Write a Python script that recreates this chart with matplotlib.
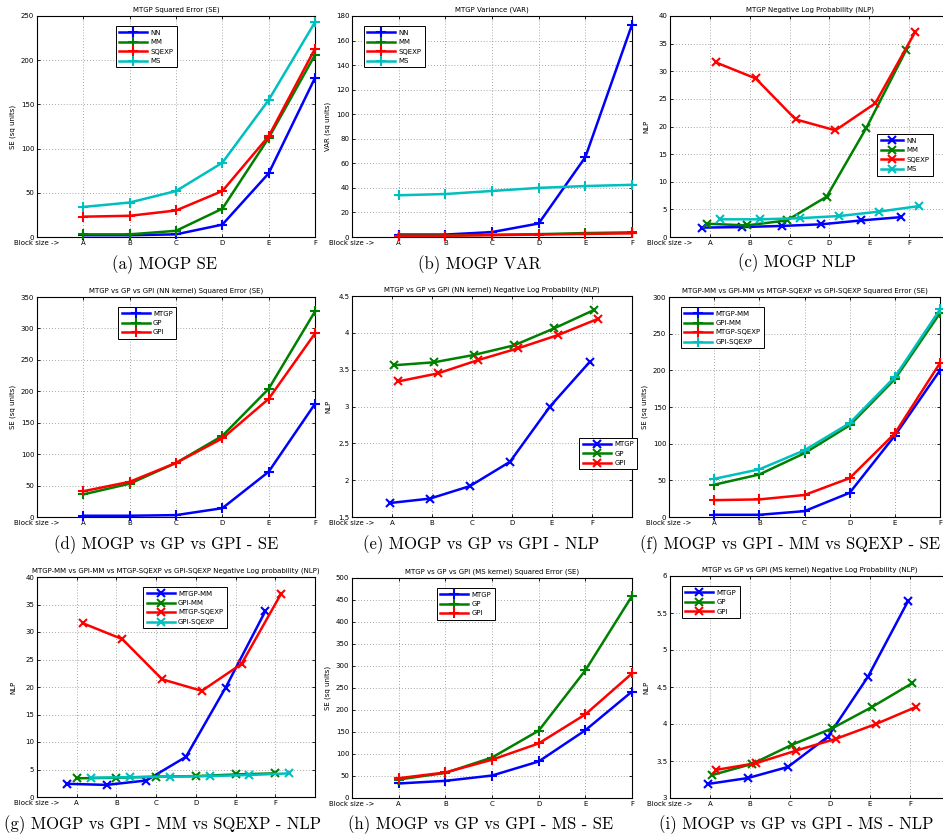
import matplotlib
matplotlib.use("Agg")
import matplotlib.pyplot as plt
import numpy as np

# ---------------- data ----------------
block_labels = ["Block size ->", "A", "B", "C", "D", "E", "F"]

# (a) MTGP Squared Error
a_nn = [2, 2, 3, 14, 72, 180]
a_mm = [3, 3, 7, 32, 112, 206]
a_sqexp = [23, 24, 30, 52, 114, 213]
a_ms = [34, 39, 52, 84, 155, 243]

# (b) MTGP Variance
b_nn = [2, 2, 4, 11, 65, 173]
b_mm = [1.2, 1.2, 1.8, 2.3, 3.2, 3.8]
b_sqexp = [1, 1, 1.5, 2, 2.5, 3]
b_ms = [34, 35, 37.5, 40, 41.5, 42.5]

# (c) MTGP NLP
c_nn = [1.7, 1.8, 2.0, 2.3, 3.0, 3.6]
c_mm = [2.4, 2.1, 3.0, 7.3, 19.8, 33.9]
c_sqexp = [31.6, 28.7, 21.3, 19.3, 24.2, 37.1]
c_ms = [3.2, 3.2, 3.4, 3.8, 4.6, 5.6]

# (d) NN kernel SE
d_mtgp = [2, 2, 3, 14, 72, 180]
d_gp = [36, 53, 86, 129, 204, 327]
d_gpi = [41, 56, 86, 125, 188, 292]

# (e) NN kernel NLP
e_mtgp = [1.69, 1.75, 1.92, 2.25, 3.0, 3.61]
e_gp = [3.56, 3.60, 3.70, 3.83, 4.06, 4.31]
e_gpi = [3.34, 3.45, 3.63, 3.79, 3.97, 4.19]

# (f) MM vs SQEXP SE
f_mtgp_mm = [3, 3, 8, 33, 111, 200]
f_gpi_mm = [44, 58, 87, 125, 188, 278]
f_mtgp_sqexp = [23, 24, 30, 53, 114, 210]
f_gpi_sqexp = [52, 65, 91, 128, 191, 283]

# (g) MM vs SQEXP NLP
g_mtgp_mm = [2.4, 2.2, 3.0, 7.3, 19.9, 33.8]
g_gpi_mm = [3.4, 3.5, 3.7, 3.8, 4.1, 4.3]
g_mtgp_sqexp = [31.6, 28.7, 21.4, 19.3, 24.2, 37.0]
g_gpi_sqexp = [3.5, 3.6, 3.7, 3.8, 4.0, 4.3]

# (h) MS kernel SE
h_mtgp = [33, 39, 51, 83, 154, 242]
h_gp = [42, 57, 92, 153, 290, 459]
h_gpi = [45, 58, 87, 124, 190, 283]

# (i) MS kernel NLP
i_mtgp = [3.19, 3.27, 3.42, 3.83, 4.64, 5.66]
i_gp = [3.31, 3.46, 3.72, 3.94, 4.23, 4.55]
i_gpi = [3.38, 3.47, 3.64, 3.80, 4.00, 4.23]

# ---------------- style ----------------
BLUE = "#0000FF"
GREEN = "#008000"
RED = "#FF0000"
CYAN = "#00BFBF"

W, H = 943, 840
fig = plt.figure(figsize=(W / 100, H / 100), dpi=100)
fig.patch.set_facecolor("white")

SMALL = 5.0


def make_ax(box, xlim, ylim, ystep, title, ylabel):
    l, t, r, b = box
    ax = fig.add_axes([l / W, 1 - b / H, (r - l) / W, (b - t) / H])
    ax.set_xlim(*xlim)
    ax.set_ylim(*ylim)
    ax.set_xticks(range(len(block_labels)))
    ax.set_xticklabels(block_labels)
    yt = np.arange(ylim[0], ylim[1] + ystep / 2, ystep)
    ax.set_yticks(yt)
    ax.set_yticklabels(["%g" % v for v in yt])
    ax.tick_params(direction="in", length=2.5, width=0.6, labelsize=SMALL,
                   top=True, right=True, pad=2)
    ax.grid(True, linestyle=(0, (1, 2.5)), color="#888888", linewidth=0.6)
    for s in ax.spines.values():
        s.set_linewidth(0.8)
        s.set_color("black")
    ax.set_title(title, fontsize=SMALL, pad=3)
    ax.set_ylabel(ylabel, fontsize=SMALL)
    ax.yaxis.set_label_coords(-21.0 / (r - l), 0.5)
    return ax


def draw(ax, series, marker, offsets=None, ms=7):
    x = np.arange(1, 7)
    for k, (vals, color, label) in enumerate(series):
        off = offsets[k] if offsets else 0.0
        ax.plot(x + off, vals, color=color, lw=1.8, marker=marker, ms=ms,
                mew=1.5, label=label, clip_on=False, zorder=3)


def legend(ax, anchor, loc="upper left", hl=4.0):
    lg = ax.legend(loc=loc, bbox_to_anchor=anchor, fontsize=SMALL,
                   handlelength=hl, handletextpad=0.5, borderpad=0.5,
                   labelspacing=0.5, fancybox=False, framealpha=1,
                   edgecolor="black")
    lg.get_frame().set_linewidth(0.7)
    return lg


SE = "SE (sq units)"

# (a)
ax = make_ax((37, 16, 315, 237), (0, 6), (0, 250), 50, "MTGP Squared Error (SE)", SE)
draw(ax, [(a_nn, BLUE, "NN"), (a_mm, GREEN, "MM"), (a_sqexp, RED, "SQEXP"), (a_ms, CYAN, "MS")], "+")
legend(ax, (0.27, 0.97))

# (b)
ax = make_ax((352, 16, 632, 237), (0, 6), (0, 180), 20, "MTGP Variance (VAR)", "VAR (sq units)")
draw(ax, [(b_nn, BLUE, "NN"), (b_mm, GREEN, "MM"), (b_sqexp, RED, "SQEXP"), (b_ms, CYAN, "MS")], "+")
legend(ax, (0.03, 0.97))

# (c)
ax = make_ax((670, 16, 949, 237), (0, 7), (0, 40), 5, "MTGP Negative Log Probability (NLP)", "NLP")
draw(ax, [(c_nn, BLUE, "NN"), (c_mm, GREEN, "MM"), (c_sqexp, RED, "SQEXP"), (c_ms, CYAN, "MS")], "x",
     offsets=[-0.2, -0.07, 0.15, 0.25], ms=6)
legend(ax, (0.955, 0.48), loc="upper right", hl=3.2)

# (d)
ax = make_ax((37, 297, 315, 517), (0, 6), (0, 350), 50, "MTGP vs GP vs GPI (NN kernel) Squared Error (SE)", SE)
draw(ax, [(d_mtgp, BLUE, "MTGP"), (d_gp, GREEN, "GP"), (d_gpi, RED, "GPI")], "+")
legend(ax, (0.28, 0.97))

# (e)
ax = make_ax((352, 296, 632, 517), (0, 7), (1.5, 4.5), 0.5,
             "MTGP vs GP vs GPI (NN kernel) Negative Log Probability (NLP)", "NLP")
draw(ax, [(e_mtgp, BLUE, "MTGP"), (e_gp, GREEN, "GP"), (e_gpi, RED, "GPI")], "x",
     offsets=[-0.05, 0.05, 0.15], ms=6)
legend(ax, (0.80, 0.375))

# (f)
ax = make_ax((669, 297, 940, 517), (0, 6), (0, 300), 50,
             "MTGP-MM vs GPI-MM vs MTGP-SQEXP vs GPI-SQEXP Squared Error (SE)", SE)
draw(ax, [(f_mtgp_mm, BLUE, "MTGP-MM"), (f_gpi_mm, GREEN, "GPI-MM"),
          (f_mtgp_sqexp, RED, "MTGP-SQEXP"), (f_gpi_sqexp, CYAN, "GPI-SQEXP")], "+")
legend(ax, (0.03, 0.97))

# (g)
ax = make_ax((37, 577, 315, 797), (0, 7), (0, 40), 5,
             "MTGP-MM vs GPI-MM vs MTGP-SQEXP vs GPI-SQEXP Negative Log probability (NLP)", "NLP")
draw(ax, [(g_mtgp_mm, BLUE, "MTGP-MM"), (g_gpi_mm, GREEN, "GPI-MM"),
          (g_mtgp_sqexp, RED, "MTGP-SQEXP"), (g_gpi_sqexp, CYAN, "GPI-SQEXP")], "x",
     offsets=[-0.25, 0.0, 0.15, 0.35], ms=6)
legend(ax, (0.37, 0.97))

# (h)
ax = make_ax((352, 578, 632, 798), (0, 6), (0, 500), 50, "MTGP vs GP vs GPI (MS kernel) Squared Error (SE)", SE)
draw(ax, [(h_mtgp, BLUE, "MTGP"), (h_gp, GREEN, "GP"), (h_gpi, RED, "GPI")], "+")
legend(ax, (0.29, 0.97))

# (i)
ax = make_ax((670, 576, 950, 798), (0, 7), (3, 6), 0.5,
             "MTGP vs GP vs GPI (MS kernel) Negative Log Probability (NLP)", "NLP")
draw(ax, [(i_mtgp, BLUE, "MTGP"), (i_gp, GREEN, "GP"), (i_gpi, RED, "GPI")], "x",
     offsets=[-0.05, 0.05, 0.15], ms=6)
legend(ax, (0.03, 0.97))

# ---------------- captions ----------------
CAP = dict(fontsize=12, fontfamily="cmr10", va="center")
captions = [
    (165, 265, "(a) MOGP SE", "center"),
    (480, 265, "(b) MOGP VAR", "center"),
    (797, 263, "(c) MOGP NLP", "center"),
    (166, 545, "(d) MOGP vs GP vs GPI - SE", "center"),
    (481, 545, "(e) MOGP vs GP vs GPI - NLP", "center"),
    (940, 545, "(f) MOGP vs GPI - MM vs SQEXP - SE", "right"),
    (162, 825, "(g) MOGP vs GPI - MM vs SQEXP - NLP", "center"),
    (481, 825, "(h) MOGP vs GP vs GPI - MS - SE", "center"),
    (796, 825, "(i) MOGP vs GP vs GPI - MS - NLP", "center"),
]
for x, y, txt, ha in captions:
    fig.text(x / W, 1 - y / H, txt, ha=ha, **CAP)

fig.savefig("out.png", dpi=100, facecolor="white")
